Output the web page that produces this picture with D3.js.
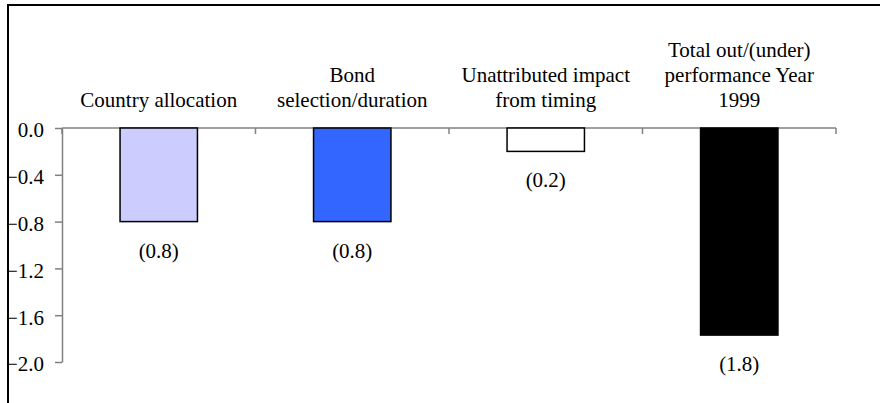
<!DOCTYPE html>
<html><head><meta charset="utf-8">
<script src="https://cdn.jsdelivr.net/npm/d3@7"></script>
<style>
html,body{margin:0;padding:0;background:#fff}
svg text, svg tspan{font-family:'Liberation Serif', Tinos, Times, serif !important;font-size:21px !important}
</style></head><body>
<svg id="chart" width="880" height="403" font-family="Liberation Serif"></svg>
<script>
const categories = [
  ["Country allocation"],
  ["Bond", "selection/duration"],
  ["Unattributed impact", "from timing"],
  ["Total out/(under)", "performance Year", "1999"]
];
const values = [-0.8, -0.8, -0.2, -1.77];
const valueLabels = ["(0.8)", "(0.8)", "(0.2)", "(1.8)"];
const yTicks = [0.0, -0.4, -0.8, -1.2, -1.6, -2.0];
const colors = ["#CCCCFF", "#3366FF", "#FFFFFF", "#000000"];

const svg = d3.select("#chart");
const ids = categories.map((c, i) => i);

const x = d3.scaleBand().domain(ids).range([62, 836]).padding(0);
const y = d3.scaleLinear().domain([0, -2]).range([128, 362]);

// frame
svg.append("path")
  .attr("d", "M8,403 L8,5 L881,5")
  .attr("fill", "none").attr("stroke", "#000").attr("stroke-width", 2);

const bw = x.bandwidth();

// y axis
const yAxis = svg.append("g").attr("transform", "translate(62,0)")
  .call(d3.axisLeft(y).tickValues(yTicks).tickFormat(d3.format(".1f")).tickSize(7).tickSizeOuter(0).tickPadding(11));
yAxis.attr("font-family", "Liberation Serif").attr("font-size", 21);
yAxis.select(".domain").attr("stroke", "#808080").attr("stroke-width", 1.5);
yAxis.selectAll(".tick line").attr("stroke", "#808080").attr("stroke-width", 1.5);
yAxis.selectAll(".tick text").attr("dy", "0.42em").attr("fill", "#000")
  .attr("font-family", "Liberation Serif");

// x axis (zero line with category boundary ticks)
const xTickPos = d3.range(categories.length + 1).map(i => 62 + i * bw);
svg.append("line").attr("x1", 62).attr("x2", 836).attr("y1", y(0)).attr("y2", y(0))
  .attr("stroke", "#808080").attr("stroke-width", 1.5);
svg.selectAll("line.xt").data(xTickPos).enter().append("line")
  .attr("class", "xt")
  .attr("x1", d => d).attr("x2", d => d)
  .attr("y1", y(0)).attr("y2", y(0) + 6)
  .attr("stroke", "#808080").attr("stroke-width", 1.5);

// bars
svg.selectAll("rect.bar").data(ids).enter().append("rect")
  .attr("class", "bar")
  .attr("x", i => x(i) + bw * 0.3)
  .attr("width", bw * 0.4)
  .attr("y", y(0))
  .attr("height", i => y(values[i]) - y(0))
  .attr("fill", i => colors[i])
  .attr("stroke", "#000").attr("stroke-width", 1.5);

// category labels
ids.forEach(i => {
  const lines = categories[i];
  const n = lines.length;
  const t = svg.append("text").attr("text-anchor", "middle")
    .attr("font-family", "Liberation Serif").attr("font-size", 21).attr("fill", "#000");
  lines.forEach((ln, k) => {
    t.append("tspan").attr("x", x(i) + bw / 2).attr("y", 107 - (n - 1 - k) * 25).text(ln);
  });
});

// value labels
svg.selectAll("text.vl").data(ids).enter().append("text")
  .attr("class", "vl").attr("text-anchor", "middle")
  .attr("font-family", "Liberation Serif").attr("font-size", 21).attr("fill", "#000")
  .attr("x", i => x(i) + bw / 2)
  .attr("y", i => y(values[i]) + 36)
  .text(i => valueLabels[i]);
</script>
</body></html>
